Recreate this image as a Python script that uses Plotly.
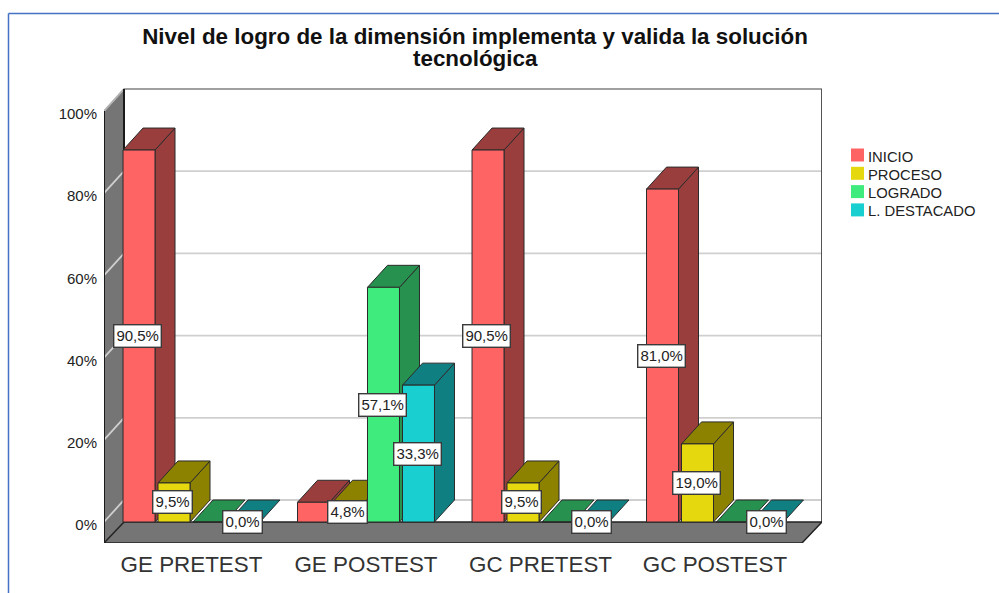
import plotly.graph_objects as go

# --- data -------------------------------------------------------------
categories = ["GE PRETEST", "GE POSTEST", "GC PRETEST", "GC POSTEST"]
series_names = ["INICIO", "PROCESO", "LOGRADO", "L. DESTACADO"]
inicio = [90.5, 4.8, 90.5, 81.0]
proceso = [9.5, 4.8, 9.5, 19.0]
logrado = [0.0, 57.1, 0.0, 0.0]
destacado = [0.0, 33.3, 0.0, 0.0]
# labels the original actually prints (overlapping ones were dropped by it)
label_inicio = [True, False, True, True]
label_proceso = [True, True, True, True]
label_logrado = [False, True, False, False]
label_destacado = [True, True, True, True]
front_colors = ["#FF6464", "#E6D80F", "#40EB7D", "#1ACFCF"]
side_colors = ["#9A3D3D", "#8C8200", "#27924F", "#0F7F82"]
edge_color = "#2b2b2b"
y_ticks = [0, 20, 40, 60, 80, 100]
y_tick_text = ["0%", "20%", "40%", "60%", "80%", "100%"]
title_lines = ["Nivel de logro de la dimensión implementa y valida la solución", "tecnológica"]

# --- geometry in axis units ---------------------------------------------
W, H = 999, 593
PX_L, PX_R, PX_T, PX_B = 104, 822, 88, 543
PX_PER_CAT = 174.5
PX_PER_PCT = 4.11
X_CENTER0 = 191.5
Y_ZERO = 522
x_range = [(PX_L - X_CENTER0) / PX_PER_CAT, (PX_R - X_CENTER0) / PX_PER_CAT]
y_range = [(Y_ZERO - PX_B) / PX_PER_PCT, (Y_ZERO - PX_T) / PX_PER_PCT]
DX = 20 / PX_PER_CAT
DY = 22 / PX_PER_PCT
BARGAP = 0.198
GROUPGAP = 0.0857
slot = (1 - BARGAP) / 4
bar_w = slot * (1 - GROUPGAP)
x0, x1 = x_range
bottom = y_range[0]
y_max = 100.0

series = [inicio, proceso, logrado, destacado]
label_shown = [label_inicio, label_proceso, label_logrado, label_destacado]
fig = go.Figure()


def poly(xs, ys, fill, line=edge_color, lw=1):
    fig.add_trace(go.Scatter(x=xs, y=ys, mode="lines", fill="toself" if fill else None,
                             fillcolor=fill, line=dict(color=line, width=lw),
                             hoverinfo="skip", showlegend=False, cliponaxis=False))


# walls and floor
poly([x0, x0 + DX, x0 + DX, x0, x0], [y_max, y_max + DY, 0, bottom, y_max], "#757575", "#757575", 1)
for t in y_ticks:
    poly([x0, x0 + DX, x1], [t, t + DY, t + DY], None, "#cfcfcf", 1.8)
poly([x0, x0 + DX], [y_max, y_max + DY], None, "#b0b0b0", 1.5)
poly([x0 + DX, x1], [y_max + DY, y_max + DY], None, "#a0a0a0", 2)
poly([x1, x1], [y_max + DY, 0], None, "#555555", 2)
poly([x0, x0], [y_max, bottom], None, "#1a1a1a", 2)
poly([x0 + DX, x0 + DX], [y_max + DY, 0], None, "#1a1a1a", 2)
poly([x0, x0 + DX, x1, x1 - DX, x0], [bottom, 0, 0, bottom, bottom], "#757575", "#222222", 1.5)

# sides and tops of the bars, back to front
for g in range(len(categories)):
    for s, vals in enumerate(series):
        v = vals[g]
        left = g + (s - 1.5) * slot - bar_w / 2
        right = left + bar_w
        if v > 0:
            poly([right, right + DX, right + DX, right, right], [0, DY, v + DY, v, 0], side_colors[s])
        poly([left, right, right + DX, left + DX, left], [v, v, v + DY, v + DY, v], side_colors[s])

# front faces as real bars on an overlaid pair of axes
for s, vals in enumerate(series):
    fig.add_trace(go.Bar(x=list(range(len(categories))), y=vals, name=series_names[s],
                         marker=dict(color=front_colors[s], line=dict(color=edge_color, width=1)),
                         xaxis="x2", yaxis="y2", showlegend=False))

# value labels
annotations = []
for s, vals in enumerate(series):
    for g, v in enumerate(vals):
        if label_shown[s][g]:
            annotations.append(dict(
                x=g + (s - 1.5) * slot - 0.006, y=v / 2, xref="x", yref="y",
                text=f"{v:.1f}%".replace(".", ","), showarrow=False,
                font=dict(family="Liberation Sans", size=15, color="#222222"),
                bgcolor="white", bordercolor="#3a3a3a", borderwidth=1.4, borderpad=2))

# legend
shapes = []
PW, PH = PX_R - PX_L, PX_B - PX_T
for i, name in enumerate(series_names):
    cy = 155 + i * 18.3
    shapes.append(dict(type="rect", xref="paper", yref="paper",
                       x0=(851 - PX_L) / PW, x1=(864 - PX_L) / PW,
                       y0=(PX_B - (cy + 6.5)) / PH, y1=(PX_B - (cy - 6.5)) / PH,
                       fillcolor=front_colors[i], line=dict(width=0)))
    annotations.append(dict(x=(866 - PX_L) / PW, y=(PX_B - (cy + 1.5)) / PH, xref="paper", yref="paper",
                            text=name, showarrow=False, xanchor="left", yanchor="middle",
                            font=dict(family="Liberation Sans", size=14.8, color="#222222")))

# outer frame of the original screenshot
FRAME_X, FRAME_Y = 8.5, 13.5
for xa, ya, xb, yb in [(FRAME_X, FRAME_Y, W, FRAME_Y), (FRAME_X, FRAME_Y, FRAME_X, H)]:
    shapes.append(dict(type="line", xref="paper", yref="paper",
                       x0=(xa - PX_L) / PW, x1=(xb - PX_L) / PW,
                       y0=(PX_B - ya) / PH, y1=(PX_B - yb) / PH,
                       line=dict(color="#4472C4", width=1.5)))

# second title line
annotations.append(dict(x=(475 - PX_L) / PW, y=(PX_B - 58.5) / PH, xref="paper", yref="paper",
                        text=f"<b>{title_lines[1]}</b>", showarrow=False, xanchor="center", yanchor="middle",
                        font=dict(family="Liberation Sans", size=22.4, color="#111111")))

axis_common = dict(showgrid=False, zeroline=False, showline=False, automargin=False)
fig.update_layout(
    width=W, height=H, autosize=False,
    margin=dict(l=PX_L, r=W - PX_R, t=PX_T, b=H - PX_B, pad=0),
    paper_bgcolor="white", plot_bgcolor="white",
    barmode="group", bargap=BARGAP, bargroupgap=GROUPGAP,
    showlegend=False,
    title=dict(text=f"<b>{title_lines[0]}</b>", x=475 / W, xanchor="center", y=1 - 36.5 / H, yanchor="middle",
               automargin=False, font=dict(family="Liberation Sans", size=22.4, color="#111111")),
    xaxis=dict(range=x_range, tickmode="array", tickvals=list(range(len(categories))), ticktext=categories,
               ticks="outside", ticklen=1, tickcolor="rgba(0,0,0,0)",
               tickfont=dict(family="Liberation Sans", size=22.4, color="#333333"), **axis_common),
    yaxis=dict(range=y_range, tickmode="array", tickvals=y_ticks, ticktext=y_tick_text,
               ticks="outside", ticklen=3, tickcolor="rgba(0,0,0,0)", ticklabelshift=3,
               tickfont=dict(family="Liberation Sans", size=15, color="#222222"), **axis_common),
    xaxis2=dict(range=x_range, overlaying="x", visible=False, **axis_common),
    yaxis2=dict(range=y_range, overlaying="y", visible=False, **axis_common),
    annotations=annotations, shapes=shapes,
)

fig.write_html("out.html", config={"displayModeBar": False}, post_script="document.body.style.margin='0';")
